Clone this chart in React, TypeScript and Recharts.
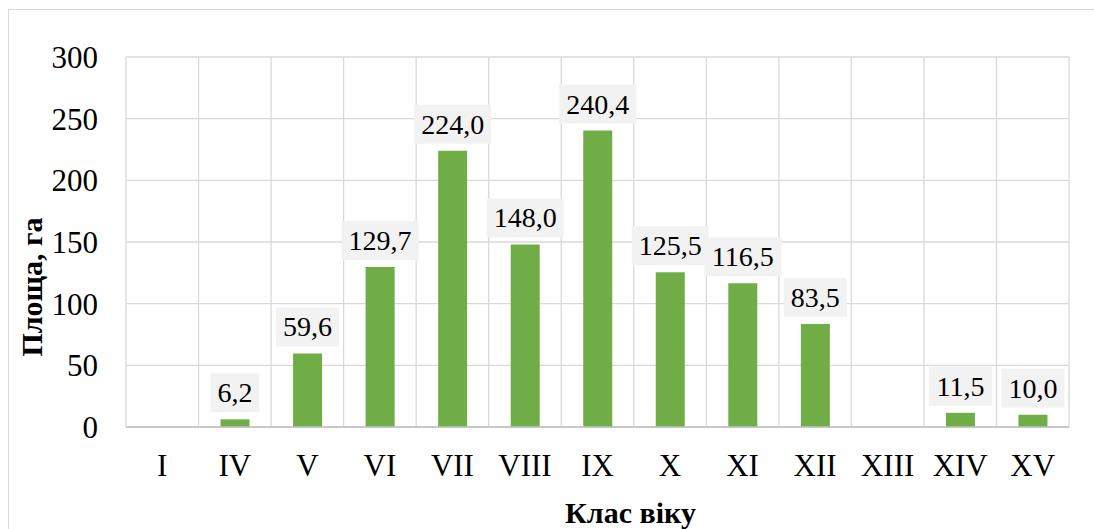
import { BarChart, Bar, XAxis, YAxis, CartesianGrid, LabelList, Label } from "recharts";

const ageClasses = ["I", "IV", "V", "VI", "VII", "VIII", "IX", "X", "XI", "XII", "XIII", "XIV", "XV"];
const areas: (number | null)[] = [null, 6.2, 59.6, 129.7, 224.0, 148.0, 240.4, 125.5, 116.5, 83.5, null, 11.5, 10.0];
const yTicks = [0, 50, 100, 150, 200, 250, 300];

const data = ageClasses.map((c, i) => ({ cls: c, area: areas[i] }));

const FONT = '"Liberation Serif", "Times New Roman", serif';

function fmt(v: number) {
  return v.toFixed(1).replace(".", ",");
}

function ValueLabel(props: any) {
  const { x, y, width, value } = props;
  if (value == null) return null;
  const txt = fmt(Number(value));
  // rough text width: digits 0.5em, comma 0.25em
  const tw = txt.split("").reduce((s: number, ch: string) => s + (ch === "," ? 0.25 : 0.5), 0) * 28;
  const bw = tw + 14;
  const bh = 39;
  const cx = Number(x) + Number(width) / 2;
  const bottom = Number(y) - 7;
  return (
    <g>
      <rect x={cx - bw / 2} y={bottom - bh} width={bw} height={bh} fill="#F2F2F2" />
      <text
        x={cx}
        y={bottom - bh / 2}
        textAnchor="middle"
        dominantBaseline="central"
        fill="#000"
        style={{ fontFamily: FONT, fontSize: 28 }}
      >
        {txt}
      </text>
    </g>
  );
}

function YTitle(props: any) {
  const vb = props.viewBox || {};
  const cx = 31;
  const cy = vb.y + vb.height / 2 + 45;
  return (
    <text
      x={cx}
      y={cy}
      transform={`rotate(-90 ${cx} ${cy})`}
      textAnchor="middle"
      dominantBaseline="central"
      fill="#000"
      style={{ fontFamily: FONT, fontSize: 30, fontWeight: "bold" }}
    >
      Площа, га
    </text>
  );
}

function XTitle(props: any) {
  const vb = props.viewBox || {};
  const cx = vb.x + vb.width / 2 + 33;
  const cy = vb.y + 96;
  return (
    <text x={cx} y={cy} textAnchor="middle" fill="#000" style={{ fontFamily: FONT, fontSize: 30, fontWeight: "bold" }}>
      Клас віку
    </text>
  );
}

export default function App() {
  return (
    <div style={{ position: "fixed", left: 0, top: 0, width: 1094, height: 529, background: "#fff", overflow: "hidden" }}>
      <div style={{ position: "absolute", left: 8, top: 9, width: 1200, height: 700, border: "1px solid #D9D9D9" }} />
      <div style={{ position: "absolute", left: 0, top: 0 }}>
        <BarChart width={1094} height={529} data={data} margin={{ top: 57, right: 25, bottom: 0, left: 0 }}>
          <CartesianGrid
            stroke="#D9D9D9"
            strokeWidth={1.3}
            verticalCoordinatesGenerator={(p: any) => {
              const off = p.offset || { left: 126, width: 943 };
              return ageClasses.map((_, i) => off.left + (i * off.width) / ageClasses.length).concat(off.left + off.width);
            }}
          />
          <XAxis
            dataKey="cls"
            height={102}
            tickSize={0}
            tickMargin={27}
            tick={{ fill: "#000", fontSize: 31, fontFamily: FONT }}
            axisLine={{ stroke: "#BFBFBF", strokeWidth: 1.5 }}
            interval={0}
          >
            <Label content={<XTitle />} />
          </XAxis>
          <YAxis
            width={126}
            domain={[0, 300]}
            ticks={yTicks}
            tickSize={0}
            tickMargin={28}
            tick={{ fill: "#000", fontSize: 31, fontFamily: FONT }}
            axisLine={false}
          >
            <Label content={<YTitle />} />
          </YAxis>
          <Bar dataKey="area" fill="#70AD47" barSize={29} isAnimationActive={false}>
            <LabelList dataKey="area" content={<ValueLabel />} />
          </Bar>
        </BarChart>
      </div>
    </div>
  );
}
